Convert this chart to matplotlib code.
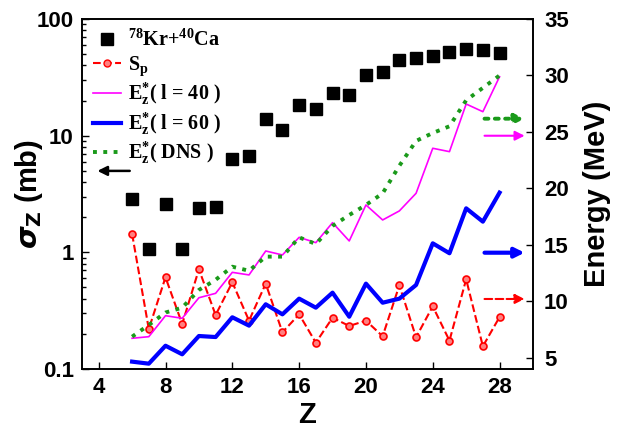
import matplotlib
matplotlib.use("Agg")
import matplotlib.pyplot as plt
from matplotlib.lines import Line2D

# charge number of the fragments
z = [6, 7, 8, 9, 10, 11, 12, 13, 14, 15, 16, 17, 18, 19, 20, 21, 22, 23, 24, 25, 26, 27, 28]

# cross sections sigma_Z (mb), 78Kr+40Ca, left log axis
sigma_z = [2.86, 1.07, 2.58, 1.07, 2.41, 2.46, 6.27, 6.65, 13.8, 11.2, 18.2, 16.9,
           23.3, 22.4, 32.9, 35.1, 44.2, 45.9, 48.4, 51.7, 55.6, 53.8, 50.7]

# energies (MeV), right axis
s_p = [15.96, 7.54, 12.12, 7.98, 12.83, 8.78, 11.68, 8.28, 11.56, 7.25, 8.84, 6.33,
       8.54, 7.81, 8.28, 6.90, 11.41, 6.81, 9.55, 6.51, 11.94, 6.01, 8.60]
e_l40 = [6.72, 6.86, 8.72, 8.49, 10.31, 10.70, 12.56, 12.33, 14.45, 14.10, 15.66, 15.19,
         16.96, 15.34, 18.53, 17.20, 18.00, 19.56, 23.55, 23.25, 27.47, 26.79, 29.89]
e_l60 = [4.65, 4.47, 6.06, 5.30, 6.92, 6.83, 8.58, 7.84, 9.73, 8.84, 10.23, 9.43,
         10.76, 8.63, 11.56, 9.87, 10.23, 11.44, 15.13, 14.25, 18.23, 17.05, 19.62]
e_dns = [6.86, 7.90, 9.00, 9.43, 11.00, 11.90, 13.06, 12.70, 13.95, 13.95, 15.66, 15.07,
         16.67, 17.64, 18.53, 19.56, 22.00, 24.20, 24.90, 25.50, 27.80, 28.90, 30.00]

plt.rcParams['font.family'] = ['Liberation Sans', 'DejaVu Sans']
plt.rcParams['font.weight'] = 'bold'
plt.rcParams['mathtext.fontset'] = 'custom'
plt.rcParams['mathtext.rm'] = 'Liberation Serif:bold'
plt.rcParams['mathtext.it'] = 'Liberation Serif:bold'
plt.rcParams['mathtext.bf'] = 'Liberation Serif:bold'

fig = plt.figure(figsize=(6.23, 4.28), dpi=100)
ax = fig.add_axes([0.1316, 0.1379, 0.7239, 0.8177])
ax2 = ax.twinx()

ax.plot(z, sigma_z, 's', color='black', markersize=9, linestyle='none')
ax.set_yscale('log')
ax.set_ylim(0.1, 100)
ax.set_xlim(3, 30)
ax.set_xticks([4, 8, 12, 16, 20, 24, 28])
ax.set_yticks([0.1, 1, 10, 100])
ax.set_yticklabels(['0.1', '1', '10', '100'])
ax.tick_params(axis='both', which='both', direction='in', labelsize=16, width=1)
ax.tick_params(axis='y', which='major', length=5, pad=6)
ax.tick_params(axis='y', which='minor', length=3)
ax.tick_params(axis='x', which='major', length=5, pad=6)
ax.tick_params(axis='x', which='minor', bottom=False)
ax.set_xlabel('Z', fontsize=21, fontweight='bold')
ax.xaxis.set_label_coords(0.5, -0.092)
ax.set_ylabel(r'$\sigma_{\mathrm{Z}}$ (mb)', fontsize=21, fontweight='bold',
              math_fontfamily='dejavusans')
ax.yaxis.set_label_coords(-0.082, 0.5)

ax2.plot(z, s_p, '--o', color='red', lw=1.5, markersize=5, mfc='#ff8080', mec='red', mew=1.2)
ax2.plot(z, e_l40, '-', color='magenta', lw=1.2)
ax2.plot(z, e_l60, '-', color='blue', lw=3)
ax2.plot(z, e_dns, ':', color='#1a9a1a', lw=2.8)
ax2.set_ylim(4, 35)
ax2.set_yticks([5, 10, 15, 20, 25, 30, 35])
ax2.tick_params(axis='y', direction='in', length=5, width=1, labelsize=16, pad=8)
ax2.set_ylabel('Energy (MeV)', fontsize=21, fontweight='bold')
ax2.yaxis.set_label_coords(1.112, 0.5)

for a in (ax, ax2):
    for s in a.spines.values():
        s.set_linewidth(1.2)
    for lab in a.get_xticklabels() + a.get_yticklabels():
        lab.set_fontweight('bold')

# legend
handles = [
    Line2D([], [], marker='s', color='black', linestyle='none', markersize=9),
    Line2D([], [], marker='o', color='red', linestyle='--', lw=1.5, markersize=5, mfc='#ff8080'),
    Line2D([], [], color='magenta', lw=1.2),
    Line2D([], [], color='blue', lw=3),
    Line2D([], [], color='#1a9a1a', lw=2.8, linestyle=':'),
]
labels = [r'$^{78}$Kr+$^{40}$Ca', r'S$_{\mathrm{p}}$', r'E$_{\mathrm{z}}^{*}$( l = 40 )',
          r'E$_{\mathrm{z}}^{*}$( l = 60 )', r'E$_{\mathrm{z}}^{*}$( DNS )']
leg = ax2.legend(handles, labels, loc='upper left', bbox_to_anchor=(0.0, 1.0), frameon=False,
                 prop={'family': 'Liberation Serif', 'weight': 'bold', 'size': 14.5},
                 handlelength=1.4, handletextpad=0.35, labelspacing=0.16, borderaxespad=0.15)

# arrows showing which axis each group belongs to
ax.annotate('', xy=(0.028, 0.566), xytext=(0.112, 0.566), xycoords='axes fraction',
            arrowprops=dict(arrowstyle='-|>', color='black', lw=1.8, mutation_scale=14))
arrow_specs = [(26.17, '#1a9a1a', ':', 2.8), (24.66, 'magenta', '-', 1.5),
               (14.3, 'blue', '-', 3), (10.2, 'red', '--', 1.5)]
for yv, col, ls, lw in arrow_specs:
    ax2.annotate('', xy=(29.5, yv), xytext=(27.1, yv), xycoords='data',
                 arrowprops=dict(arrowstyle='-|>', color=col, lw=lw, linestyle=ls,
                                 mutation_scale=14, shrinkA=0, shrinkB=0))

fig.savefig('out.png', dpi=100)
